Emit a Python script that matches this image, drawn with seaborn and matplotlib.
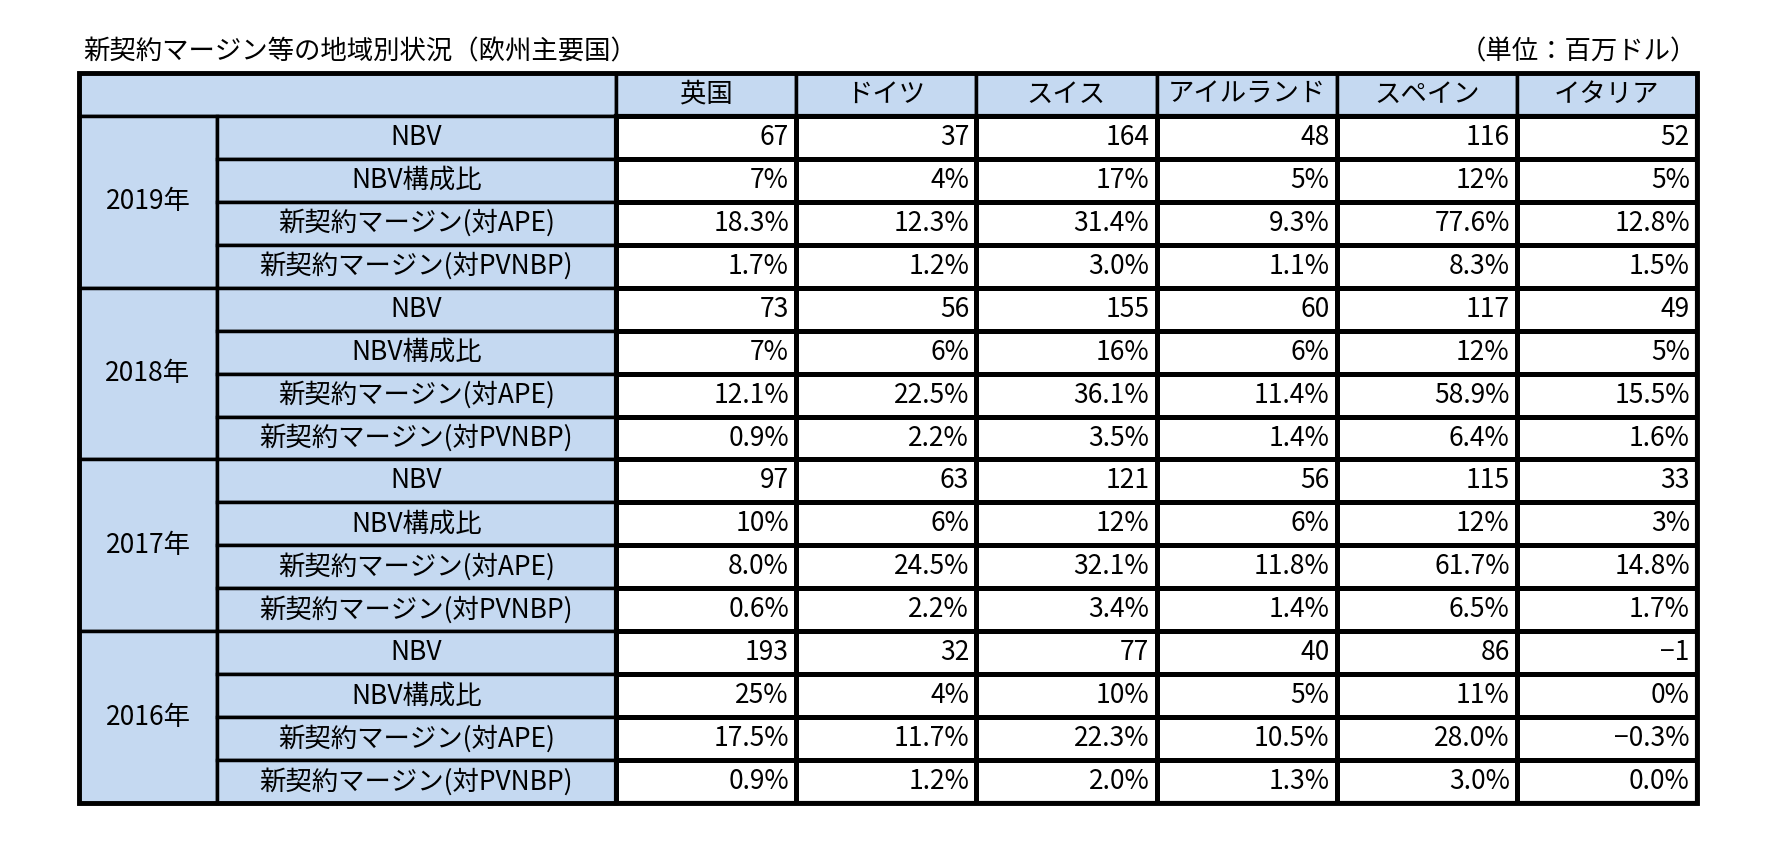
import numpy as np
import matplotlib.pyplot as plt
import seaborn as sns
from matplotlib.patches import Rectangle

plt.rcParams['font.family'] = 'Noto Sans CJK JP'

title = '新契約マージン等の地域別状況（欧州主要国）'
unit = '（単位：百万ドル）'
countries = ['英国', 'ドイツ', 'スイス', 'アイルランド', 'スペイン', 'イタリア']
years = ['2019年', '2018年', '2017年', '2016年']
items = ['NBV', 'NBV構成比', '新契約マージン(対APE)', '新契約マージン(対PVNBP)']

values = [
    ['67', '37', '164', '48', '116', '52'],
    ['7%', '4%', '17%', '5%', '12%', '5%'],
    ['18.3%', '12.3%', '31.4%', '9.3%', '77.6%', '12.8%'],
    ['1.7%', '1.2%', '3.0%', '1.1%', '8.3%', '1.5%'],
    ['73', '56', '155', '60', '117', '49'],
    ['7%', '6%', '16%', '6%', '12%', '5%'],
    ['12.1%', '22.5%', '36.1%', '11.4%', '58.9%', '15.5%'],
    ['0.9%', '2.2%', '3.5%', '1.4%', '6.4%', '1.6%'],
    ['97', '63', '121', '56', '115', '33'],
    ['10%', '6%', '12%', '6%', '12%', '3%'],
    ['8.0%', '24.5%', '32.1%', '11.8%', '61.7%', '14.8%'],
    ['0.6%', '2.2%', '3.4%', '1.4%', '6.5%', '1.7%'],
    ['193', '32', '77', '40', '86', '-1'],
    ['25%', '4%', '10%', '5%', '11%', '0%'],
    ['17.5%', '11.7%', '22.3%', '10.5%', '28.0%', '-0.3%'],
    ['0.9%', '1.2%', '2.0%', '1.3%', '3.0%', '0.0%'],
]

W, H = 1770, 848
left, yr_right, lab_right, right = 79, 217, 616, 1697
top, bottom = 73, 803
nrows = 17
rh = (bottom - top) / nrows
blue = '#c5d9f1'
fs = 19

fig = plt.figure(figsize=(W / 100, H / 100), dpi=100)
ax = fig.add_axes([0, 0, 1, 1])
ax.set_xlim(0, W)
ax.set_ylim(H, 0)
ax.axis('off')

# data grid drawn as a white heatmap
dax = fig.add_axes([lab_right / W, 1 - bottom / H, (right - lab_right) / W, (bottom - top - rh) / H])
sns.heatmap(np.zeros((16, 6)), ax=dax, cmap=['white'], cbar=False,
            linewidths=2.5, linecolor='black', xticklabels=False, yticklabels=False)
dax.set_xlim(0, 6)
dax.set_ylim(16, 0)
for s in dax.spines.values():
    s.set_visible(True)
    s.set_linewidth(3)

for r, row in enumerate(values):
    for j, v in enumerate(row):
        dax.text(j + 0.96, r + 0.5, v.replace('-', '−'),
                 ha='right', va='center', fontsize=fs)

cw = (right - lab_right) / 6
lw = 2.5

def cell(x0, y0, w, h, text, ha='center'):
    ax.add_patch(Rectangle((x0, y0), w, h, facecolor=blue, edgecolor='black', lw=lw))
    ax.text(x0 + w / 2, y0 + h / 2, text, ha=ha, va='center', fontsize=fs)

# header
cell(left, top, lab_right - left, rh, '')
for j, c in enumerate(countries):
    cell(lab_right + j * cw, top, cw, rh, c)

for i, y in enumerate(years):
    y0 = top + rh * (1 + 4 * i)
    cell(left, y0, yr_right - left, rh * 4, y)
    for k, it in enumerate(items):
        cell(yr_right, y0 + k * rh, lab_right - yr_right, rh, it)

ax.add_patch(Rectangle((left, top), right - left, bottom - top, fill=False, edgecolor='black', lw=3.5))

ax.text(left + 4, 52, title, ha='left', va='center', fontsize=fs)
ax.text(right, 52, unit, ha='right', va='center', fontsize=fs)

fig.savefig('out.png', dpi=100)
